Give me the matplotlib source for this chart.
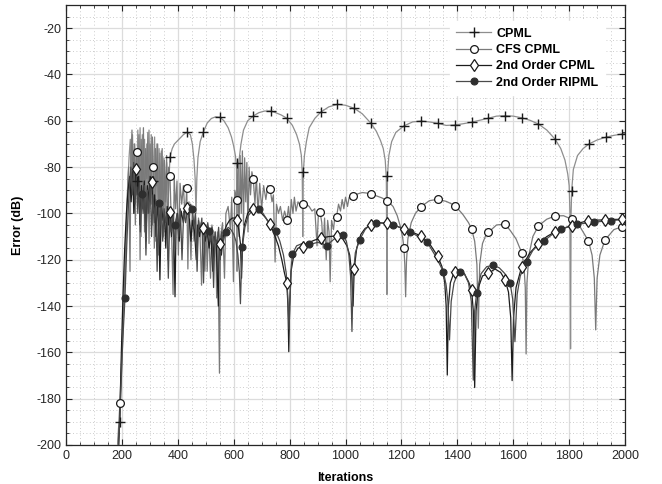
import matplotlib
matplotlib.use("Agg")
import matplotlib.pyplot as plt
from matplotlib.lines import Line2D
from matplotlib.ticker import MultipleLocator

plt.rcParams['font.family'] = ['Liberation Sans', 'DejaVu Sans']
plt.rcParams['axes.unicode_minus'] = False

# ---------------- data (iteration, error dB) ----------------
cpml_line = [(180,-210),(187,-198),(193,-190),(200,-165),(207,-140),(213,-120),(218,-98),(222,-85),(226,-75),(230,-68),(234,-88),(238,-66),(242,-100),(246,-70),(250,-83),(253,-86),(257,-64),(261,-90),(265,-63),(269,-110),(273,-66),(277,-95),(281,-68),(285,-115),(289,-70),(293,-100),(297,-64),(301,-88),(305,-66),(309,-105),(313,-86),(317,-67),(321,-112),(325,-70),(329,-98),(333,-72),(337,-118),(341,-73),(345,-95),(350,-76),(355,-108),(360,-78),(366,-92),(372,-75.5),(380,-72),(388,-70),(396,-69),(404,-68),(412,-67),(420,-66),(432,-65),(445,-66),(452,-70),(458,-77),(462,-85),(465,-100),(468,-85),(472,-76),(480,-69),(491,-65),(505,-61),(520,-59),(535,-58.3),(551,-58.5),(565,-60),(580,-63),(592,-67),(600,-71),(606,-75),(610,-80),(612,-125),(614,-88),(618,-78),(626,-70),(635,-64),(650,-60),(670,-57.9),(690,-56.5),(710,-55.8),(732,-55.8),(750,-56.5),(770,-57.5),(790,-58.9),(810,-62),(825,-66),(835,-70),(842,-75),(845,-82),(847,-110),(849,-82),(853,-75),(860,-69),(870,-63),(890,-59),(911,-56.3),(940,-54),(971,-52.9),(1000,-53.3),(1031,-54.6),(1060,-57),(1091,-61.1),(1110,-64.5),(1125,-68.5),(1135,-72),(1142,-77),(1146,-85),(1148,-135),(1150,-83.7),(1155,-75),(1165,-69),(1180,-65),(1209,-62.2),(1240,-60.5),(1270,-60.1),(1300,-60.5),(1330,-61.1),(1360,-62),(1392,-61.8),(1420,-61.3),(1451,-60.6),(1480,-59.8),(1511,-58.9),(1540,-58),(1571,-57.8),(1600,-58),(1630,-58.7),(1660,-59.8),(1690,-61.4),(1720,-64),(1750,-68),(1770,-72),(1785,-77),(1795,-83),(1800,-88),(1803,-100),(1805,-158.5),(1807,-100),(1809,-90.2),(1815,-81),(1830,-75),(1850,-72),(1871,-70),(1900,-68.3),(1931,-67.1),(1960,-66.3),(1990,-65.7),(2000,-65.5)]
cpml_marks = [(193,-190),(253,-86),(313,-86),(372,-75.5),(432,-65),(491,-65),(551,-58.5),(611,-78.4),(670,-57.9),(732,-55.8),(790,-58.9),(849,-82),(911,-56.3),(971,-52.9),(1031,-54.6),(1091,-61.1),(1150,-83.7),(1209,-62.2),(1270,-60.1),(1330,-61.1),(1392,-61.8),(1451,-60.6),(1511,-58.9),(1571,-57.8),(1630,-58.7),(1690,-61.4),(1750,-68),(1809,-90.2),(1871,-70),(1931,-67.1),(1990,-65.7)]

cfs_line = [(180,-210),(187,-195),(193,-181.7),(200,-160),(206,-140),(211,-125),(216,-105),(220,-90),(224,-80),(229,-125),(232,-78),(236,-64),(240,-85),(244,-70),(248,-105),(253,-73.3),(257,-95),(261,-66),(265,-120),(269,-68),(273,-92),(277,-63),(281,-108),(285,-72),(289,-85),(293,-65),(297,-113),(301,-70),(305,-96),(309,-67),(312,-79.8),(316,-115),(320,-72),(324,-88),(328,-70),(332,-118),(336,-74),(340,-100),(344,-72),(348,-110),(352,-77),(356,-95),(360,-75),(364,-120),(368,-80),(372,-83.8),(377,-105),(383,-135),(387,-84),(392,-98),(397,-86),(402,-118),(408,-87),(414,-96),(420,-88),(426,-102),(432,-89.2),(436,-124),(440,-95),(447,-120),(452,-98),(458,-112),(463,-100),(469,-118),(474,-102),(479,-108),(485,-131),(490,-104),(497,-125),(501,-105),(505,-125),(510,-106),(517,-128),(522,-105),(530,-112),(535,-108),(539,-136.5),(543,-108),(549,-169),(553,-110),(560,-104),(567,-128),(572,-100),(580,-97),(588,-107),(593,-93),(599,-129.5),(604,-90),(611,-94.2),(615,-80),(619,-110),(623,-75),(627,-100),(631,-73),(635,-105),(639,-76),(643,-95),(647,-78),(651,-108),(655,-80),(660,-92),(665,-82),(670,-85.1),(676,-96),(681,-84),(687,-100),(693,-87),(700,-98),(707,-88),(715,-94),(722,-88),(730,-89.4),(737,-95),(742,-92),(748,-121),(753,-96),(760,-100),(767,-97),(775,-103),(782,-99),(790,-102.8),(796,-97),(801,-104),(806,-94),(812,-100),(817,-93),(823,-99),(830,-95),(840,-97),(849,-95.9),(860,-96),(870,-97),(880,-99),(890,-98),(898,-114),(903,-100),(909,-99.4),(915,-104),(920,-115),(925,-102),(931,-120),(936,-103),(941,-108),(945,-129.5),(950,-103),(957,-107),(962,-101),(968,-101.4),(975,-96),(982,-99),(988,-94),(994,-98),(1000,-93),(1007,-97),(1013,-93),(1020,-94),(1028,-92.5),(1045,-91.5),(1060,-91),(1075,-91.2),(1090,-91.7),(1110,-92.4),(1130,-93.3),(1150,-94.5),(1170,-97),(1185,-101),(1197,-106),(1205,-111),(1209,-115),(1212,-122),(1215,-136),(1218,-121),(1223,-111),(1235,-104),(1250,-100),(1270,-97.1),(1300,-94.5),(1330,-93.9),(1360,-94.8),(1392,-96.6),(1420,-100.5),(1440,-104),(1451,-106.7),(1462,-112),(1470,-122),(1475,-149.6),(1480,-122),(1490,-113),(1500,-110),(1511,-108.2),(1540,-105),(1571,-104.6),(1590,-107.5),(1610,-111),(1630,-116.9),(1638,-122),(1643,-132),(1646,-160.7),(1649,-130),(1656,-118),(1670,-110),(1690,-105.4),(1720,-102.5),(1750,-101.1),(1780,-101),(1809,-102.5),(1840,-106),(1869,-111.9),(1882,-118),(1890,-128),(1895,-150.3),(1900,-128),(1910,-118),(1928,-111.5),(1960,-107),(1990,-105.7),(2000,-105.4)]
cfs_marks = [(193,-181.7),(253,-73.3),(312,-79.8),(372,-83.8),(432,-89.2),(611,-94.2),(670,-85.1),(730,-89.4),(790,-102.8),(849,-95.9),(909,-99.4),(968,-101.4),(1028,-92.5),(1090,-91.7),(1150,-94.5),(1209,-115),(1270,-97.1),(1330,-93.9),(1392,-96.6),(1451,-106.7),(1511,-108.2),(1571,-104.6),(1630,-116.9),(1690,-105.4),(1750,-101.1),(1809,-102.5),(1869,-111.9),(1928,-111.5),(1990,-105.7)]

ord2_line = [(185,-210),(192,-190),(198,-160),(204,-135),(210,-115),(216,-100),(222,-90),(228,-84),(233,-95),(238,-82),(243,-100),(250,-80.8),(255,-92),(260,-84),(265,-105),(270,-88),(275,-98),(280,-86),(286,-112),(291,-88),(296,-95),(301,-84),(307,-86.3),(312,-100),(317,-92),(322,-110),(327,-95),(332,-105),(336,-128.7),(341,-96),(347,-103),(352,-100),(357,-115),(362,-97),(367,-105),(372,-99.2),(377,-110),(382,-100),(386,-112),(390,-136),(394,-103),(399,-100),(405,-112),(412,-99),(420,-104),(426,-98),(432,-97.5),(440,-100),(447,-112),(452,-103),(460,-108),(466,-120),(471,-105),(478,-110),(484,-104),(491,-106.4),(498,-112),(504,-107),(512,-115),(518,-108),(525,-125),(530,-110),(537,-112),(545,-140),(548,-116),(551,-113.3),(556,-118),(560,-112),(566,-108),(575,-105),(585,-103),(595,-102),(604,-102),(611,-103),(618,-107),(624,-113),(628,-128),(632,-112),(638,-105),(650,-100),(660,-98.5),(670,-98.2),(685,-98.5),(700,-100),(715,-102),(730,-104.6),(745,-109),(760,-114),(772,-120),(782,-126),(790,-129.9),(794,-140),(797,-159.7),(800,-140),(805,-125),(815,-118),(830,-115),(849,-114.3),(870,-112.5),(890,-111.5),(911,-110.7),(940,-110),(971,-109.7),(990,-111),(1005,-114),(1015,-118),(1022,-126),(1027,-140),(1031,-124.1),(1040,-115),(1055,-109),(1070,-106.5),(1091,-105),(1120,-104),(1150,-104.3),(1180,-105.3),(1209,-106.9),(1240,-108.2),(1270,-109.7),(1300,-113),(1330,-118.5),(1345,-123),(1355,-130),(1360,-140),(1364,-169.8),(1368,-140),(1375,-130),(1385,-126.5),(1392,-125.1),(1410,-124.5),(1425,-126),(1440,-129.5),(1451,-133),(1457,-142),(1462,-175.2),(1467,-142),(1475,-132),(1490,-127),(1511,-125.9),(1535,-124),(1555,-125.5),(1571,-128.7),(1583,-134),(1591,-145),(1596,-172.2),(1601,-145),(1610,-132),(1630,-123.1),(1660,-117),(1690,-113),(1720,-110),(1750,-107.9),(1780,-106.5),(1809,-105.3),(1840,-104),(1869,-103.1),(1900,-102.9),(1928,-102.8),(1960,-102.6),(1990,-102.5),(2000,-102.5)]
ord2_marks = [(250,-80.8),(307,-86.3),(372,-99.2),(432,-97.5),(491,-106.4),(551,-113.3),(611,-103),(670,-98.2),(730,-104.6),(790,-129.9),(849,-114.3),(911,-110.7),(971,-109.7),(1031,-124.1),(1091,-105),(1150,-104.3),(1209,-106.9),(1270,-109.7),(1330,-118.5),(1392,-125.1),(1451,-133),(1511,-125.9),(1571,-128.7),(1630,-123.1),(1690,-113),(1750,-107.9),(1809,-105.3),(1869,-103.1),(1928,-102.8),(1990,-102.5)]

rip_line = [(185,-210),(195,-180),(203,-155),(211,-136.4),(217,-115),(222,-100),(227,-88),(232,-80),(237,-92),(242,-78),(247,-96),(252,-84),(257,-100),(262,-86),(266,-108),(271,-91.6),(276,-100),(281,-88),(286,-118),(291,-90),(296,-100),(301,-86),(306,-110),(311,-92),(316,-104),(321,-94),(326,-125),(331,-95.3),(336,-105),(341,-96),(346,-112),(351,-98),(356,-104),(361,-100),(366,-128),(371,-102),(376,-108),(381,-100),(386,-115),(391,-105),(397,-100),(403,-110),(409,-98),(415,-120),(421,-99),(428,-104),(435,-98),(441,-102),(446,-96),(452,-98.2),(458,-106),(463,-100),(469,-125),(474,-103),(480,-108),(486,-102),(492,-130),(497,-105),(503,-110),(507,-104),(511,-107.4),(517,-112),(522,-106),(528,-132),(533,-108),(540,-114),(546,-106),(552,-120),(557,-108),(563,-112),(571,-108),(580,-106),(590,-107),(600,-109),(608,-112),(615,-118),(620,-125),(624,-139),(628,-122),(631,-114.4),(640,-106),(652,-101),(665,-99),(678,-98.2),(690,-98.2),(705,-100),(720,-103),(735,-105),(750,-107.5),(765,-112),(778,-118),(788,-126),(793,-135),(798,-150),(802,-135),(806,-123),(810,-117.5),(825,-114),(845,-113),(869,-113.3),(885,-113),(900,-112.5),(915,-113),(933,-113.9),(950,-112),(970,-110),(990,-109.3),(1003,-112),(1012,-118),(1018,-127),(1023,-151),(1027,-128),(1035,-117),(1050,-111.5),(1070,-107),(1090,-104.5),(1109,-104),(1140,-104.3),(1169,-105),(1200,-106.2),(1231,-107.9),(1260,-110),(1291,-112.2),(1320,-118),(1350,-125.1),(1360,-131),(1366,-138),(1372,-154.6),(1378,-138),(1388,-130),(1398,-127),(1410,-125.4),(1425,-126),(1440,-130),(1450,-138),(1457,-172),(1462,-142),(1469,-134.2),(1485,-126),(1505,-123),(1529,-122.4),(1550,-123.5),(1570,-126),(1589,-130.2),(1598,-137),(1606,-155.4),(1614,-135),(1625,-127),(1648,-120.8),(1670,-116),(1690,-113.5),(1710,-111.9),(1740,-109),(1770,-106.9),(1800,-105.5),(1829,-104.7),(1860,-104.2),(1889,-103.8),(1920,-103.4),(1949,-103.1),(1980,-102.8),(2000,-102.7)]
rip_marks = [(211,-136.4),(271,-91.6),(331,-95.3),(391,-105),(452,-98.2),(511,-107.4),(571,-108),(631,-114.4),(690,-98.2),(750,-107.5),(810,-117.5),(869,-113.3),(933,-113.9),(990,-109.3),(1050,-111.5),(1109,-104),(1169,-105),(1231,-107.9),(1291,-112.2),(1350,-125.1),(1410,-125.4),(1469,-134.2),(1529,-122.4),(1589,-130.2),(1648,-120.8),(1710,-111.9),(1770,-106.9),(1829,-104.7),(1889,-103.8),(1949,-103.1)]

labels = ['CPML', 'CFS CPML', '2nd Order CPML', '2nd Order RIPML']
x_ticks = list(range(0, 2001, 200))
y_ticks = list(range(-200, -19, 20))

# ---------------- drawing ----------------
fig = plt.figure(figsize=(6.62, 4.84), dpi=100)
ax = fig.add_axes([0.0997, 0.0806, 0.8445, 0.9091])

styles = [
    dict(line=cpml_line, marks=cpml_marks, lc='#8e8e8e', m='+', mfc='none', mec='#1a1a1a', ms=6.5, mew=1.0),
    dict(line=cfs_line, marks=cfs_marks, lc='#7a7a7a', m='o', mfc='white', mec='#1a1a1a', ms=5.6, mew=0.9),
    dict(line=ord2_line, marks=ord2_marks, lc='#1c1c1c', m='d', mfc='white', mec='#1a1a1a', ms=6.0, mew=0.9),
    dict(line=rip_line, marks=rip_marks, lc='#4a4a4a', m='o', mfc='#2e2e2e', mec='#2e2e2e', ms=5.0, mew=0.8),
]

handles = []
for i, (s, lab) in enumerate(zip(styles, labels)):
    lx = [p[0] for p in s['line']]
    ly = [p[1] for p in s['line']]
    ax.plot(lx, ly, color=s['lc'], lw=0.9, zorder=2 + i)
    mx = [p[0] for p in s['marks']]
    my = [p[1] for p in s['marks']]
    ax.plot(mx, my, ls='none', marker=s['m'], mfc=s['mfc'], mec=s['mec'],
            ms=s['ms'], mew=s['mew'], zorder=6 + i)
    handles.append(Line2D([], [], color=s['lc'], lw=0.9, marker=s['m'], mfc=s['mfc'],
                          mec=s['mec'], ms=s['ms'], mew=s['mew'], label=lab))

ax.set_xlim(0, 2000)
ax.set_ylim(-200, -10)
ax.set_xticks(x_ticks)
ax.set_yticks(y_ticks)
ax.xaxis.set_minor_locator(MultipleLocator(50))
ax.yaxis.set_minor_locator(MultipleLocator(5))
ax.tick_params(which='both', direction='in', top=True, right=True, labelsize=9,
               colors='#262626')
ax.tick_params(which='major', length=4.5, width=0.8)
ax.tick_params(which='minor', length=2.5, width=0.6)
ax.grid(which='major', color='#dcdcdc', lw=0.9, ls='-')
ax.grid(which='minor', color='#bcbcbc', lw=0.6, ls=(0, (1, 3)))
ax.set_axisbelow(True)
for sp in ax.spines.values():
    sp.set_color('#262626')
    sp.set_linewidth(0.9)

ax.set_xlabel('Iterations', fontsize=9, fontweight='bold', labelpad=7)
ax.set_ylabel('Error (dB)', fontsize=9, fontweight='bold', labelpad=9)

leg = ax.legend(handles=handles, loc='upper right', bbox_to_anchor=(0.975, 0.977),
                prop={'size': 9, 'weight': 'bold'}, frameon=True, fancybox=False,
                handlelength=2.8, handletextpad=0.4, labelspacing=0.35,
                borderpad=0.5)
leg.get_frame().set_facecolor('white')
leg.get_frame().set_edgecolor('white')
leg.get_frame().set_alpha(1.0)
leg.set_zorder(20)

fig.savefig('out.png', dpi=100)
